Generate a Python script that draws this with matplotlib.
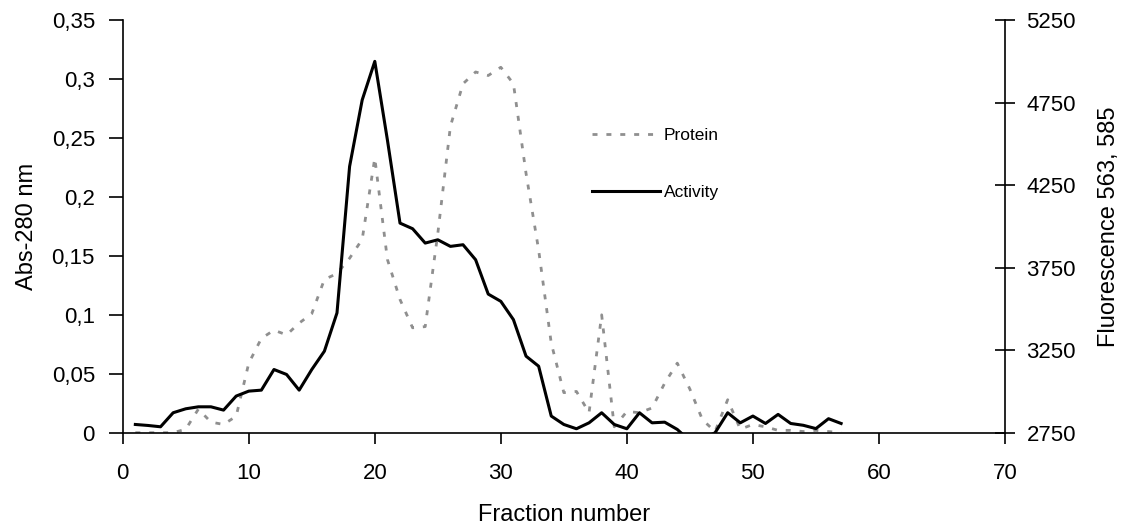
import matplotlib.pyplot as plt
import numpy as np

plt.rcParams['font.family'] = ['Liberation Sans', 'DejaVu Sans']

# fraction numbers
fraction = list(range(1, 58))

# Abs-280 nm (left axis)
protein = [0.0, 0.0, 0.0, 0.0, 0.003, 0.02, 0.009, 0.007, 0.014, 0.059,
           0.080, 0.087, 0.083, 0.093, 0.101, 0.130, 0.135, 0.148, 0.164, 0.233,
           0.147, 0.113, 0.089, 0.090, 0.169, 0.260, 0.296, 0.306, 0.303, 0.310,
           0.296, 0.220, 0.155, 0.076, 0.034, 0.035, 0.017, 0.100, 0.005, 0.018,
           0.017, 0.021, 0.042, 0.059, 0.037, 0.011, 0.001, 0.028, 0.003, 0.007,
           0.005, 0.002, 0.002, 0.001, 0.002, 0.001, 0.0]

# Fluorescence 563, 585 (right axis)
activity = [2800, 2794, 2786, 2871, 2895, 2907, 2907, 2887, 2972, 3002,
            3008, 3133, 3103, 3008, 3133, 3244, 3476, 4363, 4766, 5000,
            4524, 4020, 3986, 3899, 3919, 3879, 3889, 3798, 3590, 3546,
            3435, 3214, 3153, 2851, 2800, 2774, 2810, 2871, 2800, 2774,
            2871, 2810, 2814, 2770, 2700, 2710, 2750, 2871, 2810, 2851,
            2806, 2861, 2806, 2795, 2775, 2835, 2806]

left_ticks = [0, 0.05, 0.1, 0.15, 0.2, 0.25, 0.3, 0.35]
right_ticks = [2750, 3250, 3750, 4250, 4750, 5250]
x_ticks = [0, 10, 20, 30, 40, 50, 60, 70]

fig = plt.figure(figsize=(11.26, 5.29), dpi=100)
ax = fig.add_axes([0.109, 0.182, 0.7835, 0.78])
ax2 = ax.twinx()

l1, = ax.plot(fraction, protein, color='#8f8f8f', lw=2, linestyle=(0, (1.8, 3.2)), label='Protein')
l2, = ax2.plot(fraction, activity, color='black', lw=2.2, label='Activity')

ax.set_xlim(0, 70)
ax.set_ylim(0, 0.35)
ax2.set_ylim(2750, 5250)
ax.set_xticks(x_ticks)
ax.set_yticks(left_ticks)
ax.set_yticklabels([f"{v:g}".replace('.', ',') for v in left_ticks])
ax2.set_yticks(right_ticks)

for a in (ax, ax2):
    a.spines['top'].set_visible(False)
ax.spines['right'].set_visible(False)
ax2.spines['left'].set_visible(False)
ax2.spines['bottom'].set_visible(False)

ax.tick_params(axis='x', direction='out', length=8, width=1.2, pad=14, labelsize=16)
ax.tick_params(axis='y', direction='out', length=10, width=1.2, pad=10, labelsize=16)
ax2.tick_params(axis='y', direction='inout', length=15, width=1.2, pad=8, labelsize=16)
for s in ('left', 'bottom'):
    ax.spines[s].set_linewidth(1.2)
ax2.spines['right'].set_linewidth(1.2)

ax.set_xlabel('Fraction number', fontsize=17, labelpad=14)
ax.set_ylabel('Abs-280 nm', fontsize=17, labelpad=10)
ax2.set_ylabel('Fluorescence 563, 585', fontsize=17, labelpad=16)

fig.legend(handles=[l1, l2], loc='upper left', bbox_to_anchor=(0.518, 0.775),
           frameon=False, fontsize=12.5, handlelength=3.9, handletextpad=0.25,
           labelspacing=2.4, borderpad=0)

fig.savefig('out.png', dpi=100)
